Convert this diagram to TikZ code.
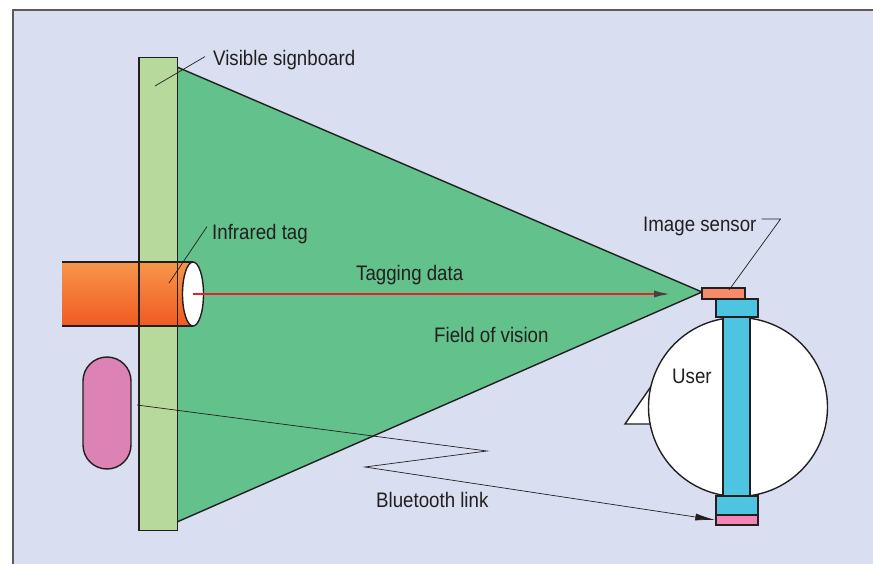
\documentclass[tikz,border=0pt]{standalone}
\usepackage{fontspec}
\setmainfont[FakeStretch=0.89]{Liberation Sans}
\usetikzlibrary{arrows.meta,calc,shapes.geometric}

\definecolor{panel}{HTML}{D9DEF1}
\definecolor{framegray}{HTML}{5A5A5A}
\definecolor{ink}{HTML}{231F20}
\definecolor{boardgreen}{HTML}{B7D99B}
\definecolor{visiongreen}{HTML}{63C18C}
\definecolor{tagtop}{HTML}{F7964B}
\definecolor{tagbottom}{HTML}{F05A22}
\definecolor{phonepink}{HTML}{DC82B4}
\definecolor{beamred}{HTML}{E8202A}
\definecolor{sensororange}{HTML}{F68A6B}
\definecolor{wearblue}{HTML}{4EC5E0}
\definecolor{badgepink}{HTML}{F386B5}

\tikzset{
  outline/.style={draw=ink, line width=1.4pt},
  label text/.style={font=\fontsize{21}{24}\selectfont, text=ink, inner sep=0pt, anchor=base west},
  leader/.style={draw=ink, line width=0.7pt},
  part/.style={outline, inner sep=0pt, minimum width=#1},
}

\begin{document}
\begin{tikzpicture}[x=1pt,y=-1pt]
\useasboundingbox (0,0) rectangle (873,564);

% panel background
\fill[panel] (13,10) rectangle (873,564);
\draw[framegray, line width=1.3pt] (13,564) -- (13,10) -- (873,10);

% field of vision
\filldraw[fill=visiongreen, outline, line join=miter] (177,67) -- (702,292) -- (177,522);

% signboard fill
\node[fill=boardgreen, inner sep=0pt, minimum width=38pt, minimum height=472pt] (board) at (158,294) {};

% infrared tag cylinder
\shade[top color=tagtop, bottom color=tagbottom] (62,262) rectangle (193,326);
\draw[outline] (62,262) -- (193,262) (62,326) -- (193,326);

% signboard border drawn over the cylinder
\draw[outline] (board.south west) rectangle (board.north east);

% cylinder end cap
\node[ellipse, fill=white, outline, minimum width=21pt, minimum height=64pt, inner sep=0pt] (tag) at (193,294) {};

% handheld device
\node[fill=phonepink, outline, rounded corners=24pt, minimum width=48pt, minimum height=112pt, inner sep=0pt] (phone) at (107,413) {};

% user seen from above
\filldraw[fill=white, outline, line join=miter] (652,385) -- (625,424) -- (652,424) -- cycle;
\node[circle, fill=white, outline, minimum size=179pt, inner sep=0pt] (user) at (738,407) {};
\node[fill=wearblue, part=27pt, minimum height=179pt] (band) at (736.5,406.5) {};
\node[fill=wearblue, part=42pt, minimum height=18pt] (topcap) at (737,308) {};
\node[fill=wearblue, part=42pt, minimum height=19pt] (bottomcap) at (737,505.5) {};
\node[fill=badgepink, part=42pt, minimum height=10pt] (badge) at (737,520) {};
\node[fill=sensororange, part=43pt, minimum height=11pt] (sensor) at (723.5,293.5) {};

% tagging data beam
\coordinate (beamend) at (672,294);
\draw[beamred, line width=2.6pt, -{Latex[length=18pt, width=7pt, color=ink!85]}] (tag.center) -- (beamend);

% bluetooth link
\coordinate (btstart) at (137,405);
\coordinate (btbendA) at (487,451);
\coordinate (btbendB) at (365,467);
\draw[leader, -{Latex[length=20pt, width=7pt, color=ink]}] (btstart) -- (btbendA) -- (btbendB) -- (badge.west);

% labels
\node[label text] (signlabel) at (213,66) {Visible signboard};
\node[label text] (irlabel) at (212,240) {Infrared tag};
\node[label text] (datalabel) at (356,280) {Tagging data};
\node[label text] (visionlabel) at (434,342) {Field of vision};
\node[label text] (sensorlabel) at (643,232) {Image sensor};
\node[label text] (userlabel) at (672,383) {User};
\node[label text] (btlabel) at (376,507) {Bluetooth link};

% leader lines
\coordinate (signpoint) at (155,86);
\coordinate (irpoint) at (169,283);
\coordinate (sensorpoint) at (729,290);
\draw[leader] ($(signlabel.west)+(-8,-4)$) -- (signpoint);
\draw[leader] ($(irlabel.west)+(-5,-8)$) -- (irpoint);
\draw[leader] ($(sensorlabel.east)+(5,-8)$) -- ++(19,0) -- (sensorpoint);
\end{tikzpicture}
\end{document}
